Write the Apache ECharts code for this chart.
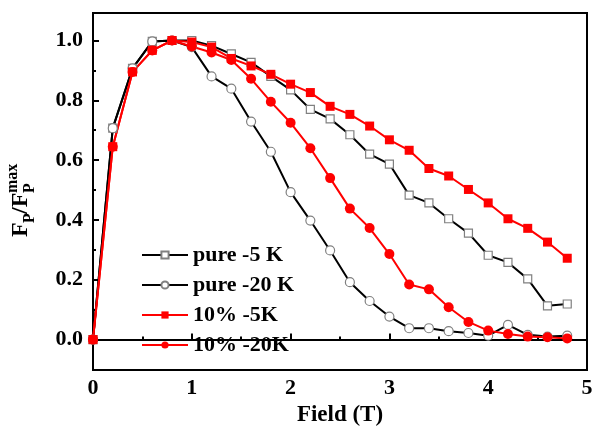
<!DOCTYPE html>
<html>
<head>
<meta charset="utf-8">
<script src="https://cdn.jsdelivr.net/npm/echarts@6/dist/echarts.min.js"></script>
<style>html,body{margin:0;padding:0;background:#fff}#c{width:598px;height:432px}</style>
</head>
<body>
<div id="c"></div>
<script>
var field = [0, 0.2, 0.4, 0.6, 0.8, 1.0, 1.2, 1.4, 1.6, 1.8, 2.0, 2.2, 2.4, 2.6, 2.8, 3.0, 3.2, 3.4, 3.6, 3.8, 4.0, 4.2, 4.4, 4.6, 4.8];
var pure5K = [0, 0.707, 0.907, 0.997, 1.0, 1.0, 0.983, 0.955, 0.927, 0.88, 0.835, 0.77, 0.738, 0.685, 0.62, 0.587, 0.483, 0.457, 0.404, 0.356, 0.282, 0.258, 0.203, 0.113, 0.119];
var pure20K = [0, 0.707, 0.907, 0.997, 1.0, 0.978, 0.88, 0.839, 0.729, 0.628, 0.493, 0.398, 0.298, 0.192, 0.129, 0.077, 0.038, 0.038, 0.028, 0.022, 0.013, 0.049, 0.016, 0.01, 0.013];
var doped5K = [0, 0.645, 0.895, 0.967, 1.0, 0.995, 0.978, 0.94, 0.915, 0.887, 0.854, 0.826, 0.78, 0.753, 0.714, 0.668, 0.633, 0.572, 0.547, 0.502, 0.457, 0.404, 0.372, 0.326, 0.272];
var doped20K = [0, 0.645, 0.895, 0.967, 1.0, 0.98, 0.96, 0.935, 0.872, 0.795, 0.725, 0.64, 0.54, 0.438, 0.373, 0.286, 0.184, 0.168, 0.108, 0.059, 0.03, 0.019, 0.01, 0.008, 0.004];
var seriesNames = ['pure -5 K', 'pure -20 K', '10% -5K', '10% -20K'];
var yMajor = [0, 0.2, 0.4, 0.6, 0.8, 1.0];
var yMinor = [0.1, 0.3, 0.5, 0.7, 0.9];

function pairs(ys) { return field.map(function (x, i) { return [x, ys[i]]; }); }
var FONT = '"Liberation Serif", "Times New Roman", serif';
var chart = echarts.init(document.getElementById('c'), null, {renderer: 'canvas'});
function mk(name, ys, sym, size, fill, border, lineColor) {
  return {
    name: name, type: 'line', data: pairs(ys), symbol: sym, symbolSize: size,
    lineStyle: {color: lineColor, width: 2},
    itemStyle: {color: fill, borderColor: border, borderWidth: fill === '#ffffff' ? 1.2 : 0},
    emphasis: {disabled: true}, animation: false, z: 3
  };
}
chart.setOption({
  animation: false,
  backgroundColor: '#ffffff',
  grid: {left: 93, right: 11, top: 13, bottom: 56, show: true, borderColor: '#000', borderWidth: 2, backgroundColor: 'transparent'},
  legend: {
    orient: 'vertical', left: 136, top: 239, itemGap: 8, itemWidth: 46, itemHeight: 9,
    data: seriesNames,
    textStyle: {fontFamily: FONT, fontWeight: 'bold', fontSize: 22, color: '#000'}
  },
  xAxis: {
    type: 'value', min: 0, max: 5, interval: 1,
    name: 'Field (T)', nameLocation: 'middle', nameGap: 30,
    nameTextStyle: {fontFamily: FONT, fontWeight: 'bold', fontSize: 23, color: '#000'},
    axisLine: {show: true, lineStyle: {color: '#000', width: 2}},
    axisTick: {show: true, inside: true, length: 6, lineStyle: {color: '#000', width: 2}},
    minorTick: {show: true, splitNumber: 2, length: 3, lineStyle: {color: '#000', width: 2}},
    axisLabel: {margin: 7, fontFamily: FONT, fontWeight: 'bold', fontSize: 22, color: '#000'},
    splitLine: {show: false}
  },
  yAxis: [{
    type: 'value', min: -0.102, max: 1.092,
    axisLine: {show: true, lineStyle: {color: '#000', width: 2}},
    axisTick: {show: true, inside: true, length: 6, customValues: yMajor, lineStyle: {color: '#000', width: 2}},
    axisLabel: {margin: 10, customValues: yMajor, fontFamily: FONT, fontWeight: 'bold', fontSize: 22, color: '#000',
      formatter: function (v) { return v.toFixed(1); }},
    splitLine: {show: false}
  }, {
    type: 'value', min: -0.102, max: 1.092, position: 'left',
    axisLine: {show: false},
    axisTick: {show: true, inside: true, length: 3, customValues: yMinor, lineStyle: {color: '#000', width: 2}},
    axisLabel: {show: false},
    splitLine: {show: false}
  }],
  graphic: [{
    type: 'group', x: 33, y: 237, rotation: Math.PI / 2,
    children: [
      {type: 'text', x: 0, y: 0, style: {text: 'F', font: 'bold 24px ' + FONT, fill: '#000', verticalAlign: 'bottom'}},
      {type: 'text', x: 14, y: 5, style: {text: 'P', font: 'bold 16px ' + FONT, fill: '#000', verticalAlign: 'bottom'}},
      {type: 'text', x: 23, y: 0, style: {text: '/F', font: 'bold 24px ' + FONT, fill: '#000', verticalAlign: 'bottom'}},
      {type: 'text', x: 44, y: 5, style: {text: 'P', font: 'bold 16px ' + FONT, fill: '#000', verticalAlign: 'bottom'}},
      {type: 'text', x: 44, y: -12, style: {text: 'max', font: 'bold 16px ' + FONT, fill: '#000', verticalAlign: 'bottom'}}
    ]
  }],
  series: [
    mk(seriesNames[0], pure5K, 'rect', 8, '#ffffff', '#808080', '#000000'),
    mk(seriesNames[1], pure20K, 'circle', 9, '#ffffff', '#808080', '#000000'),
    mk(seriesNames[2], doped5K, 'rect', 9, '#ff0000', '#ff0000', '#ff0000'),
    mk(seriesNames[3], doped20K, 'circle', 10, '#ff0000', '#ff0000', '#ff0000')
  ]
});
</script>
</body>
</html>
